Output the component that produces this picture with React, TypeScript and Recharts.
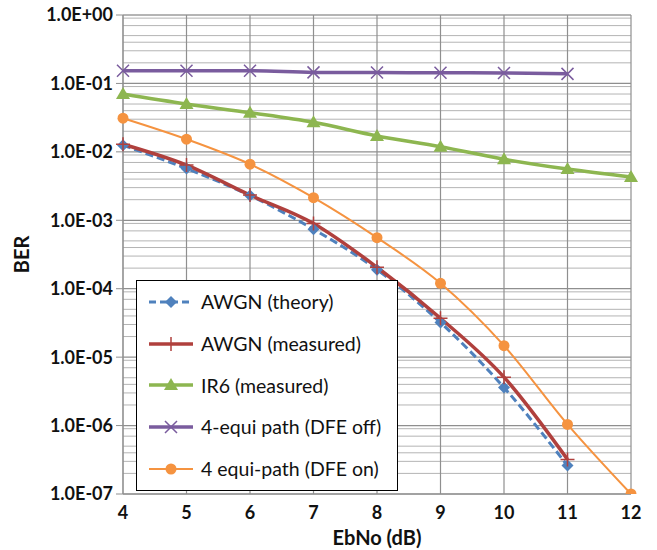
import React from "react";
import {
  LineChart,
  Line,
  XAxis,
  YAxis,
  CartesianGrid,
} from "recharts";

const ebno = [4, 5, 6, 7, 8, 9, 10, 11, 12];
const awgnTheory = [0.0125, 0.0057, 0.0023, 0.00074, 0.00019, 0.000032, 0.0000036, 0.00000026, null];
const awgnMeasured = [0.0129, 0.0064, 0.00234, 0.0009, 0.000206, 0.000037, 0.0000051, 0.00000032, null];
const ir6 = [0.07, 0.05, 0.0373, 0.027, 0.0171, 0.0119, 0.0078, 0.0056, 0.0043];
const dfeOff = [0.153, 0.153, 0.153, 0.145, 0.144, 0.143, 0.142, 0.138, null];
const dfeOn = [0.031, 0.0153, 0.0066, 0.00214, 0.000557, 0.00012, 0.0000147, 0.00000104, 0.0000001];

const majorTicks = [1e-7, 1e-6, 1e-5, 1e-4, 1e-3, 1e-2, 1e-1, 1];
const minorTicks: number[] = [];
for (let e = -7; e < 0; e++) {
  for (let m = 2; m <= 9; m++) minorTicks.push(m * Math.pow(10, e));
}

const seriesNames = [
  "AWGN (theory)",
  "AWGN (measured)",
  "IR6 (measured)",
  "4-equi path (DFE off)",
  "4 equi-path (DFE on)",
];
const colors = ["#4F81BD", "#B0403D", "#8DB650", "#7A5C9E", "#F59340"];

const data = ebno.map((x, i) => ({
  x,
  a: awgnTheory[i],
  b: awgnMeasured[i],
  c: ir6[i],
  d: dfeOff[i],
  e: dfeOn[i],
}));

const fmt = (v: number) => {
  const e = Math.round(Math.log10(v));
  return "1.0E" + (e < 0 ? "-" : "+") + String(Math.abs(e)).padStart(2, "0");
};

function Marker({ kind, cx, cy, color }: { kind: number; cx: number; cy: number; color: string }) {
  if (cx == null || cy == null || isNaN(cx) || isNaN(cy)) return null;
  switch (kind) {
    case 0:
      return <path d={`M${cx},${cy - 6}L${cx + 6},${cy}L${cx},${cy + 6}L${cx - 6},${cy}Z`} fill={color} />;
    case 1:
      return (
        <path d={`M${cx - 7},${cy}L${cx + 7},${cy}M${cx},${cy - 7}L${cx},${cy + 7}`} stroke={color} strokeWidth={1.5} />
      );
    case 2:
      return <path d={`M${cx},${cy - 7}L${cx + 7},${cy + 5}L${cx - 7},${cy + 5}Z`} fill={color} />;
    case 3:
      return (
        <path
          d={`M${cx - 6},${cy - 6}L${cx + 6},${cy + 6}M${cx + 6},${cy - 6}L${cx - 6},${cy + 6}`}
          stroke={color}
          strokeWidth={1.5}
        />
      );
    default:
      return <circle cx={cx} cy={cy} r={5.5} fill={color} />;
  }
}

const makeDot = (kind: number) => (props: any) => (
  <Marker key={props.key ?? `${kind}-${props.index}`} kind={kind} cx={props.cx} cy={props.cy} color={colors[kind]} />
);

const widths = [3, 3.5, 3.5, 3.5, 2];

function LegendBox() {
  return (
    <div
      style={{
        position: "absolute",
        left: 136,
        top: 280,
        width: 262,
        height: 211,
        border: "1.5px solid #000",
        background: "#fff",
        boxSizing: "border-box",
        fontFamily: "Lato, 'Open Sans', sans-serif",
        fontSize: 19.5,
        color: "#111",
        paddingTop: 0,
      }}
    >
      {seriesNames.map((n, i) => (
        <div key={n} style={{ display: "flex", alignItems: "center", height: 41.7, paddingLeft: 10 }}>
          <svg width={48} height={18} style={{ marginRight: 6 }}>
            <line
              x1={2}
              y1={9}
              x2={46}
              y2={9}
              stroke={colors[i]}
              strokeWidth={widths[i]}
              strokeDasharray={i === 0 ? "7 4" : undefined}
            />
            <Marker kind={i} cx={24} cy={9} color={colors[i]} />
          </svg>
          <span style={{ whiteSpace: "nowrap" }}>{n}</span>
        </div>
      ))}
    </div>
  );
}

export default function App() {
  const keys = ["a", "b", "c", "d", "e"];
  return (
    <div style={{ position: "absolute", left: 0, top: 0, width: 657, height: 550, background: "#fff" }}>
      <LineChart width={657} height={550} data={data} margin={{ top: 15, right: 26, bottom: 0, left: 0 }}>
        <CartesianGrid yAxisId="minor" horizontal={true} vertical={false} stroke="#b4b4b4" strokeWidth={1} />
        <CartesianGrid yAxisId="main" horizontal={true} vertical={true} stroke="#8f8f8f" strokeWidth={1.2} />
        <XAxis
          dataKey="x"
          type="number"
          domain={[4, 12]}
          ticks={ebno}
          height={56}
          stroke="#8f8f8f"
          tickLine={false}
          tick={{ fill: "#111", fontSize: 18, fontWeight: 700, fontFamily: "Lato, sans-serif" }}
          tickMargin={6}
          label={{
            value: "EbNo (dB)",
            position: "insideBottom",
            offset: 5,
            fill: "#111",
            fontSize: 20,
            fontWeight: 700,
            fontFamily: "Lato, sans-serif",
          }}
        />
        <YAxis
          yAxisId="minor"
          scale="log"
          domain={[1e-7, 1]}
          allowDataOverflow
          ticks={minorTicks}
          width={0}
          axisLine={false}
          tickSize={4}
          tickLine={{ stroke: "#8f8f8f" }}
          tickFormatter={() => ""}
        />
        <YAxis
          yAxisId="main"
          scale="log"
          domain={[1e-7, 1]}
          allowDataOverflow
          ticks={majorTicks}
          width={123}
          stroke="#8f8f8f"
          tickSize={7}
          tickFormatter={fmt}
          tick={{ fill: "#111", fontSize: 18, fontWeight: 700, fontFamily: "Lato, sans-serif" }}
          tickMargin={3}
          label={{
            value: "BER",
            angle: -90,
            position: "insideLeft",
            offset: 22,
            fill: "#111",
            fontSize: 20,
            fontWeight: 700,
            fontFamily: "Lato, sans-serif",
            style: { textAnchor: "middle" },
          }}
        />
        {keys.map((k, i) => (
          <Line
            key={k}
            yAxisId="main"
            type="monotone"
            dataKey={k}
            name={seriesNames[i]}
            stroke={colors[i]}
            strokeWidth={widths[i]}
            strokeDasharray={i === 0 ? "8 4" : undefined}
            dot={makeDot(i)}
            activeDot={false}
            isAnimationActive={false}
            connectNulls={false}
          />
        ))}
      </LineChart>
      <LegendBox />
    </div>
  );
}
